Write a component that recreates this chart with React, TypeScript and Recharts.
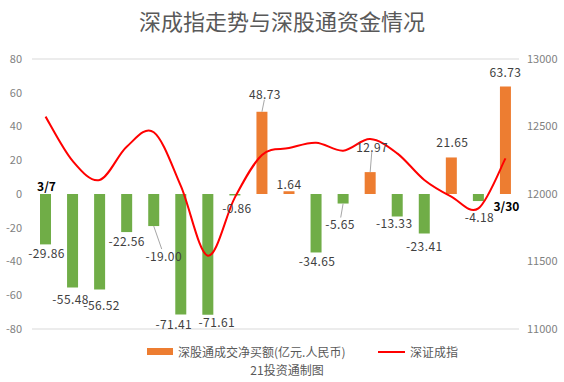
import { ComposedChart, Bar, Line, XAxis, YAxis, CartesianGrid, Cell, LabelList } from 'recharts'

const DATES = ['3/7', '3/8', '3/9', '3/10', '3/11', '3/14', '3/15', '3/16', '3/17', '3/18', '3/21', '3/22', '3/23', '3/24', '3/25', '3/28', '3/29', '3/30']
const NET_BUY = [-29.86, -55.48, -56.52, -22.56, -19.0, -71.41, -71.61, -0.86, 48.73, 1.64, -34.65, -5.65, 12.97, -13.33, -23.41, 21.65, -4.18, 63.73]
const SZ_INDEX = [12573, 12245, 12104, 12350, 12457, 12060, 11543, 11975, 12289, 12340, 12380, 12321, 12407, 12301, 12104, 11980, 11894, 12264]
const LEFT_TICKS = [-80, -60, -40, -20, 0, 20, 40, 60, 80]
const RIGHT_TICKS = [11000, 11500, 12000, 12500, 13000]

// label nudges [dx, dy] relative to the default spot next to the bar end
const LABEL_NUDGE: [number, number][] = [
  [1, 0], [-2, 3], [2, 7], [0, 0], [10, 21], [-7, 1], [9, -1], [2, 4], [3, -10],
  [0, 0], [1, 0], [-3, 12], [2, -18], [-3, -2], [0, 4], [1, -8], [1, 7], [0, -7],
]

const data = DATES.map((d, i) => ({ date: d, net: NET_BUY[i], idx: SZ_INDEX[i] }))

const FONT = '"Noto Sans CJK SC", "Noto Sans", sans-serif'
const GREEN = '#70ad47'
const ORANGE = '#ed7d31'
const RED = '#ff0000'

// Excel-like smoothing (Catmull-Rom through every point)
function excelSmooth(context: any) {
  let pts: [number, number][] = []
  return {
    areaStart() {},
    areaEnd() {},
    lineStart() { pts = [] },
    point(x: number, y: number) { pts.push([+x, +y]) },
    lineEnd() {
      if (!pts.length) return
      context.moveTo(pts[0][0], pts[0][1])
      for (let i = 0; i < pts.length - 1; i++) {
        const p0 = pts[i - 1] || pts[i]
        const p1 = pts[i]
        const p2 = pts[i + 1]
        const p3 = pts[i + 2] || p2
        context.bezierCurveTo(
          p1[0] + (p2[0] - p0[0]) / 6, p1[1] + (p2[1] - p0[1]) / 6,
          p2[0] - (p3[0] - p1[0]) / 6, p2[1] - (p3[1] - p1[1]) / 6,
          p2[0], p2[1],
        )
      }
    },
  }
}

const ValueLabel = (props: any) => {
  const { x, y, width, height, value, index } = props
  const top = Math.min(y, y + height)
  const bottom = Math.max(y, y + height)
  const cx = x + width / 2
  const [dx, dy] = LABEL_NUDGE[index] || [0, 0]
  const neg = value < 0
  const end = neg ? bottom : top
  const ty = neg ? end + 8 + dy : end - 8 + dy
  const lead = Math.abs(dy) > 9
  return (
    <g>
      {lead && (
        <line x1={cx} y1={end} x2={cx + dx * 0.8} y2={neg ? ty - 6 : ty + 6} stroke="#a6a6a6" strokeWidth={1} />
      )}
      <text x={cx + dx} y={ty} textAnchor="middle" dominantBaseline="central" fontSize={12} fill="#404040" fontFamily={FONT} letterSpacing={0.4}>
        {value.toFixed(2)}
      </text>
    </g>
  )
}

const DateLabel = (props: any) => {
  const { x, y, width, height, value, index } = props
  if (index !== 0 && index !== DATES.length - 1) return null
  const base = NET_BUY[index] < 0 ? Math.min(y, y + height) : Math.max(y, y + height)
  const above = NET_BUY[index] < 0
  return (
    <text x={x + width / 2 + 1} y={above ? base - 9 : base + 11} textAnchor="middle" dominantBaseline="central" fontSize={12} fontWeight="bold" fill="#000" fontFamily={FONT}>
      {value}
    </text>
  )
}

export default function App() {
  return (
    <div style={{ position: 'absolute', left: 0, top: 0, width: 564, height: 382, background: '#fff', fontFamily: FONT }}>
      <div style={{ position: 'absolute', top: 5, left: 0, width: 564, textAlign: 'center', fontSize: 22, color: '#595959', lineHeight: '30px' }}>
        深成指走势与深股通资金情况
      </div>
      <ComposedChart width={564} height={382} data={data} margin={{ top: 59, right: 0, bottom: 53, left: 0 }}>
        <CartesianGrid vertical={false} stroke="#d9d9d9" />
        <XAxis dataKey="date" hide />
        <YAxis
          yAxisId="left"
          width={32}
          domain={[-80, 80]}
          ticks={LEFT_TICKS}
          axisLine={false}
          tickLine={false}
          tickMargin={4}
          tick={{ fontSize: 11, fill: '#7f7f7f', fontFamily: FONT }}
        />
        <YAxis
          yAxisId="right"
          orientation="right"
          width={45}
          domain={[11000, 13000]}
          ticks={RIGHT_TICKS}
          axisLine={false}
          tickLine={false}
          tickMargin={2}
          tick={{ fontSize: 11, fill: '#7f7f7f', fontFamily: FONT }}
        />
        <Bar yAxisId="left" dataKey="net" barSize={11} fill={ORANGE} isAnimationActive={false}>
          {data.map((d, i) => (
            <Cell key={`c-${i}`} fill={d.net < 0 ? GREEN : ORANGE} />
          ))}
          <LabelList dataKey="net" content={ValueLabel} />
          <LabelList dataKey="date" content={DateLabel} />
        </Bar>
        <Line yAxisId="right" dataKey="idx" type={excelSmooth as any} stroke={RED} strokeWidth={2} dot={false} activeDot={false} isAnimationActive={false} />
      </ComposedChart>
      <div style={{ position: 'absolute', top: 343, left: 0, width: 564, height: 18, fontSize: 12, color: '#595959' }}>
        <div style={{ position: 'absolute', left: 147, top: 5, width: 26, height: 7, background: ORANGE }} />
        <div style={{ position: 'absolute', left: 178, top: 0, lineHeight: '18px', whiteSpace: 'nowrap' }}>深股通成交净买额(亿元.人民币)</div>
        <div style={{ position: 'absolute', left: 378, top: 8, width: 27, height: 2, background: RED }} />
        <div style={{ position: 'absolute', left: 410, top: 0, lineHeight: '18px', whiteSpace: 'nowrap' }}>深证成指</div>
      </div>
      <div style={{ position: 'absolute', top: 361, left: 0, width: 574, textAlign: 'center', fontSize: 12, color: '#595959', lineHeight: '18px' }}>
        21投资通制图
      </div>
    </div>
  )
}
